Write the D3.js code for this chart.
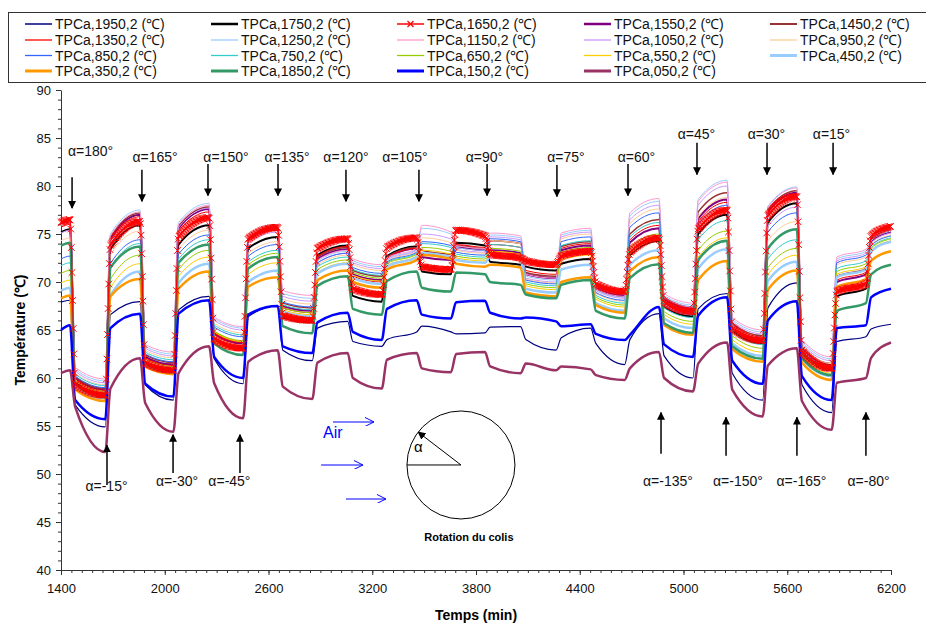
<!DOCTYPE html>
<html><head><meta charset="utf-8">
<script src="https://cdnjs.cloudflare.com/ajax/libs/d3/7.8.5/d3.min.js"></script>
<style>
body{margin:0;background:#fff;}
text{font-family:"Liberation Sans",Arial,sans-serif;}
</style></head><body>
<svg id="chart" width="926" height="624"></svg>
<script>
// rotation instants (min): each segment runs segT[k] -> segT[k+1]
const segT = [1400,1452,1656,1857,2050,2256,2453,2653,2853,3058,3255,3457,3655,3852,4058,4263,4463,4660,4858,5055,5252,5458,5655,5857,6055,6200];

// per series: value ~30 min after each step (early) and at the end of the step (end)
const t1950Early = [67.9,57.2,66.6,59.3,67.1,62.0,66.4,62.9,65.2,63.8,64.0,65.4,64.6,65.3,64.0,64.2,63.6,64.0,62.3,67.2,60.5,67.3,59.3,63.8,65.1];
const t1950End   = [68.1,54.9,67.95,57.7,68.5,59.4,67.5,61.8,65.9,63.3,64.8,64.8,64.7,65.35,62.9,65.2,61.4,66.7,60.0,68.8,57.7,69.9,56.4,64.3,65.6];
const t1750Early = [75.2,59.5,73.4,61.7,73.9,64.0,73.5,66.3,72.8,68.55,72.7,71.1,74.1,72.1,71.6,71.9,69.3,72.8,67.4,75.0,64.9,76.2,62.6,68.5,74.4];
const t1750End   = [75.5,58.3,75.9,60.9,75.9,63.0,74.7,65.8,73.8,67.95,73.7,70.8,73.8,71.8,71.2,72.4,68.5,74.3,66.4,77.0,63.6,78.2,60.8,69.3,75.4];
const t1650Early = [76.2,59.4,73.8,61.6,74.7,64.1,74.5,66.5,73.5,69.3,73.6,71.6,75.4,72.9,72.2,72.7,69.8,73.1,67.9,75.5,65.2,76.9,62.8,69.0,74.8];
const t1650End   = [76.5,58.2,76.3,60.8,76.7,63.1,75.7,66.0,74.5,68.7,74.6,71.3,74.8,72.5,71.8,73.2,69.0,74.6,66.9,77.5,63.9,78.9,61.0,69.8,75.8];
const t1550Early = [76.0,60.0,74.5,62.2,75.6,64.6,74.4,67.5,72.4,70.8,72.5,72.6,73.6,73.3,70.8,73.3,69.4,74.1,68.2,76.6,65.5,77.3,63.2,70.0,74.2];
const t1550End   = [76.3,58.8,77.0,61.4,77.6,63.6,75.6,67.0,73.4,70.2,73.5,72.3,73.3,73.0,70.4,73.8,68.6,75.6,67.2,78.6,64.2,79.3,61.4,70.8,75.2];
const t1450Early = [75.9,60.1,74.7,62.4,75.8,64.8,74.6,67.8,72.6,71.2,72.6,73.3,73.8,74.3,71.0,73.7,69.6,75.0,68.4,77.3,65.7,77.5,63.3,70.6,74.4];
const t1450End   = [76.2,58.9,77.2,61.6,77.8,63.8,75.8,67.3,73.6,70.6,73.6,72.9,73.5,74.0,70.6,74.2,68.8,76.5,67.4,79.3,64.4,79.5,61.5,71.4,75.4];
const t1350Early = [75.7,59.9,74.3,62.1,75.3,64.7,74.2,67.3,72.7,70.6,72.5,73.0,73.9,73.9,71.2,73.5,69.7,74.4,68.3,76.3,65.5,77.2,63.1,70.2,74.6];
const t1350End   = [76.0,58.7,76.8,61.3,77.3,63.7,75.4,66.8,73.7,70.0,73.5,72.6,73.6,73.6,70.8,74.0,68.9,75.9,67.3,78.3,64.2,79.2,61.3,71.0,75.6];
const t1250Early = [76.0,60.9,75.0,63.3,76.2,66.2,74.8,68.8,72.2,72.2,72.4,75.6,73.6,74.9,70.6,74.9,69.2,76.9,68.6,78.6,66.1,77.9,63.8,72.4,74.3];
const t1250End   = [76.3,59.7,77.5,62.5,78.2,65.2,76.0,68.3,73.2,71.6,73.4,75.0,73.3,74.6,70.2,75.4,68.4,78.4,67.6,80.6,64.8,79.9,62.0,73.2,75.3];
const t1150Early = [75.9,61.1,74.8,63.5,76.0,66.35,74.7,69.1,72.3,72.4,72.5,75.9,73.8,75.1,70.8,75.1,69.3,77.2,68.8,78.4,66.3,77.8,64.0,72.6,74.4];
const t1150End   = [76.2,59.9,77.3,62.7,78.0,65.35,75.9,68.6,73.3,71.8,73.5,75.2,73.5,74.8,70.4,75.6,68.5,78.7,67.8,80.4,65.0,79.8,62.2,73.4,75.4];
const t1050Early = [75.1,60.7,74.0,63.1,75.7,66.0,74.0,68.5,72.0,72.0,72.3,75.0,73.4,74.7,70.4,74.7,69.1,76.5,68.4,78.0,65.9,75.8,63.6,72.2,74.1];
const t1050End   = [75.4,59.5,76.5,62.3,77.7,65.0,75.2,68.0,73.0,71.4,73.3,74.5,73.1,74.4,70.0,75.2,68.3,78.0,67.4,80.0,64.6,77.8,61.8,73.0,75.1];
const t950Early  = [74.3,60.5,72.8,62.9,73.4,65.7,73.0,68.2,71.8,71.8,72.2,74.6,73.3,74.3,70.3,74.5,68.8,76.1,68.0,76.8,65.5,74.3,63.3,71.8,73.9];
const t950End    = [74.6,59.3,75.3,62.1,75.4,64.7,74.2,67.7,72.8,71.2,73.2,74.1,73.0,74.0,69.9,75.0,68.0,77.6,67.0,78.8,64.2,76.3,61.5,72.6,74.9];
const t850Early  = [72.4,60.2,71.9,62.5,72.9,65.3,72.7,67.9,72.0,71.5,72.1,74.2,73.1,74.5,70.2,74.2,68.9,75.7,67.6,76.0,65.1,75.2,63.0,72.0,73.8];
const t850End    = [72.7,59.0,74.4,61.7,74.9,64.3,73.9,67.4,73.0,70.9,73.1,73.8,72.8,74.2,69.8,74.7,68.1,77.2,66.6,78.0,63.8,77.2,61.2,72.8,74.8];
const t750Early  = [71.7,60.4,71.5,62.7,72.4,65.5,72.1,67.6,71.6,71.3,72.0,74.0,72.9,73.9,70.0,73.8,68.6,74.7,67.3,74.4,64.8,72.4,62.8,71.4,73.6];
const t750End    = [72.0,59.2,74.0,61.9,74.4,64.5,73.3,67.1,72.6,70.7,73.0,73.6,72.6,73.6,69.6,74.3,67.8,76.2,66.3,76.4,63.5,74.4,61.0,72.2,74.6];
const t650Early  = [70.9,59.8,70.3,62.0,71.3,64.9,71.8,67.3,71.3,71.0,71.9,73.6,72.7,73.5,69.8,73.1,68.4,73.5,66.9,73.3,64.4,71.5,62.6,71.1,73.5];
const t650End    = [71.2,58.6,72.8,61.2,73.3,63.9,73.0,66.8,72.3,70.4,72.9,73.2,72.4,73.2,69.4,73.6,67.6,75.0,65.9,75.3,63.1,73.5,60.8,71.9,74.5];
const t550Early  = [69.9,59.7,69.4,61.8,70.6,64.8,70.8,67.1,71.0,70.7,71.7,73.3,72.5,73.2,69.6,72.3,68.2,72.9,66.6,72.6,64.0,70.8,62.3,70.8,73.3];
const t550End    = [70.2,58.5,71.9,61.0,72.6,63.8,72.0,66.6,72.0,70.1,72.7,72.9,72.2,72.9,69.2,72.8,67.4,74.4,65.6,74.6,62.7,72.8,60.5,71.6,74.3];
const t450Early  = [69.1,59.1,68.6,61.4,69.9,64.2,70.0,66.9,70.9,70.4,71.6,73.0,72.3,72.7,69.3,71.3,67.8,71.8,66.2,71.4,63.6,70.1,62.0,70.5,73.2];
const t450End    = [69.4,57.9,71.1,60.6,71.9,63.2,71.2,66.4,71.9,69.8,72.6,72.6,72.0,72.4,68.9,71.8,67.0,73.3,65.2,73.4,62.3,72.1,60.2,71.3,74.2];
const t350Early  = [68.3,58.8,68.5,61.2,69.3,63.9,69.5,66.7,70.2,70.0,71.3,72.8,71.9,71.8,68.9,70.0,67.6,71.1,65.5,70.2,63.0,69.2,61.6,69.5,72.2];
const t350End    = [68.6,57.6,70.3,60.4,71.1,62.9,70.5,66.2,71.2,69.4,72.3,72.4,71.6,71.5,68.5,70.5,66.8,72.6,64.5,72.2,61.7,71.2,59.8,70.3,73.2];
const t1850Early = [73.8,59.4,71.5,61.4,72.0,63.6,71.4,65.4,69.6,67.2,70.1,69.4,71.0,70.0,68.7,69.7,67.0,70.4,65.7,72.3,63.3,73.5,62.1,67.0,70.8];
const t1850End   = [74.1,58.0,73.7,60.6,73.9,62.4,72.6,64.65,70.6,66.6,71.1,69.0,70.8,69.7,68.3,70.2,66.2,71.85,64.7,74.3,62.0,75.5,60.3,67.8,71.8];
const t150Early  = [65.0,57.7,65.2,59.4,66.7,62.2,66.6,63.3,65.8,64.8,67.2,66.6,67.9,66.8,66.3,65.4,64.6,64.5,63.5,66.5,61.8,66.0,60.2,65.2,68.4];
const t150End    = [65.5,55.7,66.7,58.06,68.1,60.0,67.5,62.6,66.8,63.96,68.1,66.2,68.05,66.2,65.9,65.6,63.96,67.4,62.2,68.4,59.4,68.0,57.7,65.5,69.3];
const t050Early  = [60.5,57.0,58.9,57.4,60.5,59.45,61.7,59.1,61.6,60.0,61.9,61.0,62.5,61.2,61.5,61.2,60.3,61.0,60.0,61.5,58.8,61.3,57.6,59.5,62.1];
const t050End    = [60.8,52.3,62.05,54.4,63.3,55.8,62.9,57.8,62.6,58.9,62.6,60.6,62.7,60.5,60.8,60.9,59.8,62.7,58.6,63.7,56.0,63.1,54.6,60.0,63.7];

// annotations
const topLabels = ['α=180°','α=165°','α=150°','α=135°','α=120°','α=105°','α=90°','α=75°','α=60°','α=45°','α=30°','α=15°'];
const topArrowT = [1464,1868,2250,2655,3048,3470,3864,4268,4679,5078,5483,5865];
const topTextT  = [1571,1944,2354,2707,3048,3389,3849,4320,4728,5075,5480,5856];
const topTextY  = [83.1,82.5,82.5,82.5,82.5,82.5,82.5,82.5,82.5,84.9,84.9,84.9];
const topArrowFrom = [80.9,81.7,82.3,82.3,81.7,81.7,82.3,82.2,82.3,84.5,84.5,84.5];
const topArrowTo   = [77.7,78.4,79.0,79.0,78.4,78.4,79.0,78.9,79.0,81.2,81.2,81.2];
const botLabels = ['α=-15°','α=-30°','α=-45°','α=-135°','α=-150°','α=-165°','α=-80°'];
const botArrowT = [1666,2048,2435,4870,5246,5656,6055];
const botTextT  = [1663,2071,2374,4910,5315,5682,6070];
const botTextY  = [48.2,48.8,48.8,48.8,48.8,48.8,48.8];
const botArrowFrom = [48.85,50.1,50.1,52.1,51.9,51.9,51.9];
const botArrowTo   = [53.0,54.1,54.1,56.4,55.9,55.9,56.4];

const svg = d3.select('#chart');
const x = d3.scaleLinear().domain([1400, 6200]).range([61, 891]);
const y = d3.scaleLinear().domain([40, 90]).range([570, 90]);

const series = [
  {name:'TPCa,1950,2 (℃)', early:t1950Early, end:t1950End, color:'#000080', w:1.2, lw:1.5},
  {name:'TPCa,1750,2 (℃)', early:t1750Early, end:t1750End, color:'#000000', w:2, lw:2.5},
  {name:'TPCa,1650,2 (℃)', early:t1650Early, end:t1650End, color:'#ff0000', w:1, lw:1.5, marks:true},
  {name:'TPCa,1550,2 (℃)', early:t1550Early, end:t1550End, color:'#800080', w:2, lw:2.5},
  {name:'TPCa,1450,2 (℃)', early:t1450Early, end:t1450End, color:'#993333', w:1.5, lw:2},
  {name:'TPCa,1350,2 (℃)', early:t1350Early, end:t1350End, color:'#ff0000', w:1, lw:1.3},
  {name:'TPCa,1250,2 (℃)', early:t1250Early, end:t1250End, color:'#99ccff', w:1, lw:1.3},
  {name:'TPCa,1150,2 (℃)', early:t1150Early, end:t1150End, color:'#ff99cc', w:1, lw:1.3},
  {name:'TPCa,1050,2 (℃)', early:t1050Early, end:t1050End, color:'#cc99ff', w:1, lw:1.3},
  {name:'TPCa,950,2 (℃)',  early:t950Early,  end:t950End,  color:'#ffcc99', w:1, lw:1.3},
  {name:'TPCa,850,2 (℃)',  early:t850Early,  end:t850End,  color:'#3366ff', w:1, lw:1.3},
  {name:'TPCa,750,2 (℃)',  early:t750Early,  end:t750End,  color:'#33cccc', w:1, lw:1.3},
  {name:'TPCa,650,2 (℃)',  early:t650Early,  end:t650End,  color:'#99cc00', w:1, lw:1.3},
  {name:'TPCa,550,2 (℃)',  early:t550Early,  end:t550End,  color:'#ffcc00', w:1, lw:1.3},
  {name:'TPCa,450,2 (℃)',  early:t450Early,  end:t450End,  color:'#99ccff', w:2.5, lw:3},
  {name:'TPCa,350,2 (℃)',  early:t350Early,  end:t350End,  color:'#ff9900', w:2.5, lw:3},
  {name:'TPCa,1850,2 (℃)', early:t1850Early, end:t1850End, color:'#339966', w:2.5, lw:3},
  {name:'TPCa,150,2 (℃)',  early:t150Early,  end:t150End,  color:'#0000ff', w:2.5, lw:3},
  {name:'TPCa,050,2 (℃)',  early:t050Early,  end:t050End,  color:'#993366', w:2.5, lw:3}
];

function pointsOf(s) {
  const p = [[segT[0], s.early[0]], [segT[1], s.end[0]]];
  for (let k = 1; k < s.end.length; k++) {
    p.push([segT[k] + 30, s.early[k]]);
    p.push([segT[k + 1], s.end[k]]);
  }
  return p;
}

const line = d3.line().x(d => x(d[0])).y(d => y(d[1])).curve(d3.curveMonotoneX);

// axes
const gx = svg.append('g').attr('transform', 'translate(0,570)');
gx.call(d3.axisBottom(x).tickValues(d3.range(1400, 6200, 60)).tickSize(3).tickFormat('').tickSizeOuter(0));
gx.call(g => g.select('.domain').remove());
const gx2 = svg.append('g').attr('transform', 'translate(0,570)');
gx2.call(d3.axisBottom(x).tickValues(d3.range(1400, 6201, 600)).tickSize(5).tickPadding(9).tickSizeOuter(0).tickFormat(d3.format('d')));
const gy = svg.append('g').attr('transform', 'translate(61,0)');
gy.call(d3.axisLeft(y).tickValues(d3.range(40, 90, 1)).tickSize(3).tickFormat('').tickSizeOuter(0));
gy.call(g => g.select('.domain').remove());
const gy2 = svg.append('g').attr('transform', 'translate(61,0)');
gy2.call(d3.axisLeft(y).tickValues(d3.range(40, 91, 5)).tickSize(5).tickPadding(5).tickSizeOuter(0));
svg.selectAll('.tick line').attr('stroke', '#333');
svg.selectAll('.domain').attr('stroke', '#333');
svg.selectAll('.tick text').attr('font-size', 13).attr('fill', '#111').attr('font-family', '"Liberation Sans",Arial,sans-serif');

// series lines, red marked series on top
const plot = svg.append('g');
const order = [0,1,3,4,5,6,7,8,9,10,11,12,13,14,15,16,17,18,2];
order.forEach(i => {
  const s = series[i];
  const path = plot.append('path')
    .attr('d', line(pointsOf(s)))
    .attr('fill', 'none')
    .attr('stroke', s.color)
    .attr('stroke-width', s.w)
    .attr('stroke-linejoin', 'round');
  if (s.marks) {
    const node = path.node();
    const L = node.getTotalLength();
    const pts = [];
    let nextX = x(segT[0]);
    for (let l = 0; l <= L; l += 0.5) {
      const p = node.getPointAtLength(l);
      if (p.x >= nextX) { pts.push(p); nextX = p.x + 0.6; }
    }
    plot.append('g').selectAll('path').data(pts).enter().append('path')
      .attr('transform', d => `translate(${d.x},${d.y})`)
      .attr('d', 'M-3.3,-3.3L3.3,3.3M-3.3,3.3L3.3,-3.3')
      .attr('stroke', s.color)
      .attr('stroke-width', 1);
  }
});

// arrows
const defs = svg.append('defs');
defs.append('marker').attr('id', 'head').attr('viewBox', '0 0 10 10')
  .attr('refX', 9).attr('refY', 5).attr('markerWidth', 8).attr('markerHeight', 8)
  .attr('markerUnits', 'userSpaceOnUse').attr('orient', 'auto')
  .append('path').attr('d', 'M0,0L10,5L0,10Z').attr('fill', '#000');
defs.append('marker').attr('id', 'open').attr('viewBox', '0 0 10 10')
  .attr('refX', 10).attr('refY', 5).attr('markerWidth', 11).attr('markerHeight', 9)
  .attr('markerUnits', 'userSpaceOnUse').attr('orient', 'auto')
  .append('path').attr('d', 'M0,0L10,5L0,10').attr('fill', 'none').attr('stroke', '#0000ff').attr('stroke-width', 1.1);

const ann = svg.append('g');
topLabels.forEach((lab, i) => {
  ann.append('line').attr('x1', x(topArrowT[i])).attr('x2', x(topArrowT[i]))
    .attr('y1', y(topArrowFrom[i])).attr('y2', y(topArrowTo[i]))
    .attr('stroke', '#000').attr('stroke-width', 1.5).attr('marker-end', 'url(#head)');
  ann.append('text').attr('x', x(topTextT[i])).attr('y', y(topTextY[i]))
    .attr('text-anchor', 'middle').attr('font-size', 14).attr('fill', '#111').text(lab);
});
botLabels.forEach((lab, i) => {
  ann.append('line').attr('x1', x(botArrowT[i])).attr('x2', x(botArrowT[i]))
    .attr('y1', y(botArrowFrom[i])).attr('y2', y(botArrowTo[i]))
    .attr('stroke', '#000').attr('stroke-width', 1.5).attr('marker-end', 'url(#head)');
  ann.append('text').attr('x', x(botTextT[i])).attr('y', y(botTextY[i]))
    .attr('text-anchor', 'middle').attr('font-size', 14).attr('fill', '#111').text(lab);
});

// air flow sketch
const airArrows = [[2973, 3210, 55.42], [2904, 3146, 50.94], [3048, 3279, 47.4]];
airArrows.forEach(a => {
  ann.append('line').attr('x1', x(a[0])).attr('x2', x(a[1])).attr('y1', y(a[2])).attr('y2', y(a[2]))
    .attr('stroke', '#0000ff').attr('stroke-width', 1.1).attr('marker-end', 'url(#open)');
});
ann.append('text').attr('x', x(2915)).attr('y', y(53.75)).attr('font-size', 16).attr('fill', '#0000ff').text('Air');

const cx = x(3713), cy = y(50.94), r = 54;
ann.append('circle').attr('cx', cx).attr('cy', cy).attr('r', r).attr('fill', 'none').attr('stroke', '#000').attr('stroke-width', 1);
ann.append('line').attr('x1', cx - r).attr('x2', cx).attr('y1', cy).attr('y2', cy).attr('stroke', '#000').attr('stroke-width', 1);
const ang = 37.5 * Math.PI / 180;
ann.append('line').attr('x1', cx).attr('y1', cy)
  .attr('x2', cx - r * Math.cos(ang)).attr('y2', cy - r * Math.sin(ang))
  .attr('stroke', '#000').attr('stroke-width', 1).attr('marker-end', 'url(#head)');
ann.append('text').attr('x', x(3441)).attr('y', y(52.29)).attr('font-size', 15).attr('fill', '#000').text('α');
ann.append('text').attr('x', x(3759)).attr('y', y(43.0)).attr('text-anchor', 'middle')
  .attr('font-size', 11).attr('font-weight', 'bold').attr('fill', '#000').text('Rotation du colis');

// axis titles
svg.append('text').attr('x', 476).attr('y', 620).attr('text-anchor', 'middle')
  .attr('font-size', 14).attr('font-weight', 'bold').text('Temps (min)');
svg.append('text').attr('transform', 'translate(25,330) rotate(-90)').attr('text-anchor', 'middle')
  .attr('font-size', 14).attr('font-weight', 'bold').text('Température (℃)');

// legend
const leg = svg.append('g');
leg.append('rect').attr('x', 8.5).attr('y', 12.5).attr('width', 930).attr('height', 70)
  .attr('fill', '#fff').attr('stroke', '#333').attr('stroke-width', 1);
const colX = [25, 211, 397, 584, 770];
const rowY = [24, 40, 55.5, 71];
series.forEach((s, i) => {
  const cxL = colX[i % 5], cyL = rowY[Math.floor(i / 5)];
  leg.append('line').attr('x1', cxL).attr('x2', cxL + 27).attr('y1', cyL).attr('y2', cyL)
    .attr('stroke', s.color).attr('stroke-width', s.lw);
  if (s.marks) {
    leg.append('path').attr('transform', `translate(${cxL + 13.5},${cyL})`)
      .attr('d', 'M-3,-3L3,3M-3,3L3,-3').attr('stroke', s.color).attr('stroke-width', 1.2);
  }
  leg.append('text').attr('x', cxL + 30).attr('y', cyL + 5).attr('font-size', 14).attr('fill', '#111').text(s.name);
});
</script></body></html>
